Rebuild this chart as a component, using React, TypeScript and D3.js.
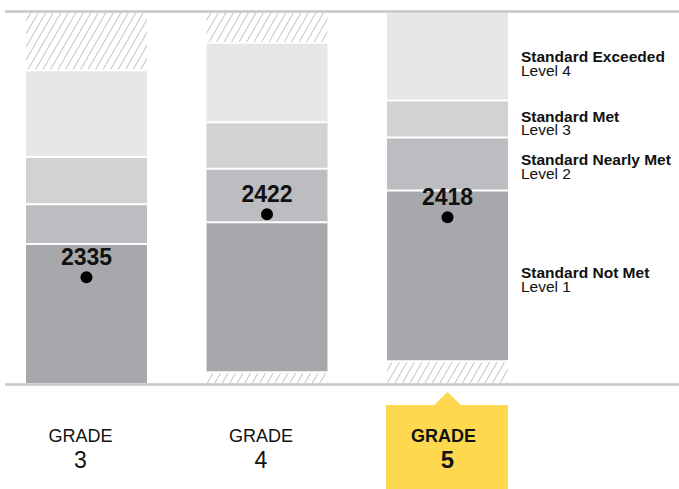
import * as d3 from "d3";

const grades = ["3", "4", "5"];
const minScores = [2189, 2204, 2219];
const level2Cuts = [2381, 2411, 2455];
const level3Cuts = [2436, 2485, 2528];
const level4Cuts = [2501, 2549, 2579];
const maxScores = [2621, 2659, 2700];
const studentScores = [2335, 2422, 2418];
const selectedGrade = "5";

const levelNames = ["Standard Not Met", "Standard Nearly Met", "Standard Met", "Standard Exceeded"];
const levelTags = ["Level 1", "Level 2", "Level 3", "Level 4"];
const levelColors = ["#a7a8ab", "#bcbdc0", "#d1d2d4", "#e6e7e8"];

const width = 679;
const height = 489;
const font = "'Liberation Sans', Arial, sans-serif";

export default function App() {
  const y = d3
    .scaleLinear()
    .domain([d3.min(minScores)!, d3.max(maxScores)!])
    .range([383, 13]);

  const x = d3.scaleBand<string>().domain(grades).range([26, 508]).paddingInner(0.33).paddingOuter(0);
  const bw = x.bandwidth();

  const [dMin, dMax] = y.domain();
  const selIdx = grades.indexOf(selectedGrade);
  // offsets so the two legend lines sit where the reference has them
  const legendShift = [2.5, 1.5, 2.5, 5.5];

  return (
    <svg width={width} height={height} style={{ position: "absolute", left: 0, top: 0 }} fontFamily={font}>
      <defs>
        <pattern id="hatch" patternUnits="userSpaceOnUse" width={6.5} height={6.5} patternTransform="rotate(30)">
          <rect width={6.5} height={6.5} fill="#fff" />
          <line x1={0} y1={0} x2={0} y2={6.5} stroke="#c4c4c4" strokeWidth={2} />
        </pattern>
      </defs>

      {grades.map((g, i) => {
        const x0 = x(g)!;
        const cuts = [minScores[i], level2Cuts[i], level3Cuts[i], level4Cuts[i], maxScores[i]];
        return (
          <g key={g}>
            {maxScores[i] < dMax && (
              <rect x={x0} y={y(dMax)} width={bw} height={y(maxScores[i]) - y(dMax)} fill="url(#hatch)" />
            )}
            {minScores[i] > dMin && (
              <rect x={x0} y={y(minScores[i])} width={bw} height={y(dMin) - y(minScores[i])} fill="url(#hatch)" />
            )}
            {levelColors.map((c, k) => (
              <rect key={k} x={x0} y={y(cuts[k + 1])} width={bw} height={y(cuts[k]) - y(cuts[k + 1])} fill={c} />
            ))}
            {cuts.map((c, k) =>
              c > dMin && c < dMax ? (
                <line key={"s" + k} x1={x0} x2={x0 + bw} y1={y(c)} y2={y(c)} stroke="#fff" strokeWidth={2} />
              ) : null
            )}
            <circle cx={x0 + bw / 2} cy={y(studentScores[i])} r={6} fill="#000" />
            <text
              x={x0 + bw / 2}
              y={y(studentScores[i]) - 12}
              textAnchor="middle"
              fontSize={23}
              fontWeight="bold"
              fill="#111"
            >
              {studentScores[i]}
            </text>
          </g>
        );
      })}

      <line x1={5} x2={width} y1={11.5} y2={11.5} stroke="#c6c6c6" strokeWidth={2.5} />
      <line x1={5} x2={width} y1={384.5} y2={384.5} stroke="#c6c6c6" strokeWidth={2.5} />

      {levelNames.map((name, k) => {
        const lo = [minScores[selIdx], level2Cuts[selIdx], level3Cuts[selIdx], level4Cuts[selIdx]][k];
        const hi = [level2Cuts[selIdx], level3Cuts[selIdx], level4Cuts[selIdx], maxScores[selIdx]][k];
        const mid = (y(lo) + y(hi)) / 2;
        return (
          <g key={name}>
            <text x={521} y={mid + legendShift[k]} fontSize={15.5} fontWeight="bold" fill="#111">
              {name}
            </text>
            <text x={521} y={mid + legendShift[k] + 13.5} fontSize={15.5} fill="#111">
              {levelTags[k]}
            </text>
          </g>
        );
      })}

      {grades.map((g) => {
        const cx = x(g)! + bw / 2;
        const sel = g === selectedGrade;
        return (
          <g key={"lab" + g}>
            {sel && (
              <>
                <rect x={x(g)! - 1} y={405} width={bw + 1} height={height - 405} fill="#fed84f" />
                <path d={`M${cx - 14},405.5 L${cx},392 L${cx + 14},405.5 Z`} fill="#fed84f" />
              </>
            )}
            <text
              x={cx - (sel ? 4 : 6)}
              y={441.5}
              textAnchor="middle"
              fontSize={18}
              fontWeight={sel ? "bold" : "normal"}
              fill="#111"
            >
              GRADE
            </text>
            <text
              x={cx - (sel ? 0 : 6)}
              y={467.5}
              textAnchor="middle"
              fontSize={sel ? 24 : 23}
              fontWeight={sel ? "bold" : "normal"}
              fill="#111"
            >
              {g}
            </text>
          </g>
        );
      })}
    </svg>
  );
}
